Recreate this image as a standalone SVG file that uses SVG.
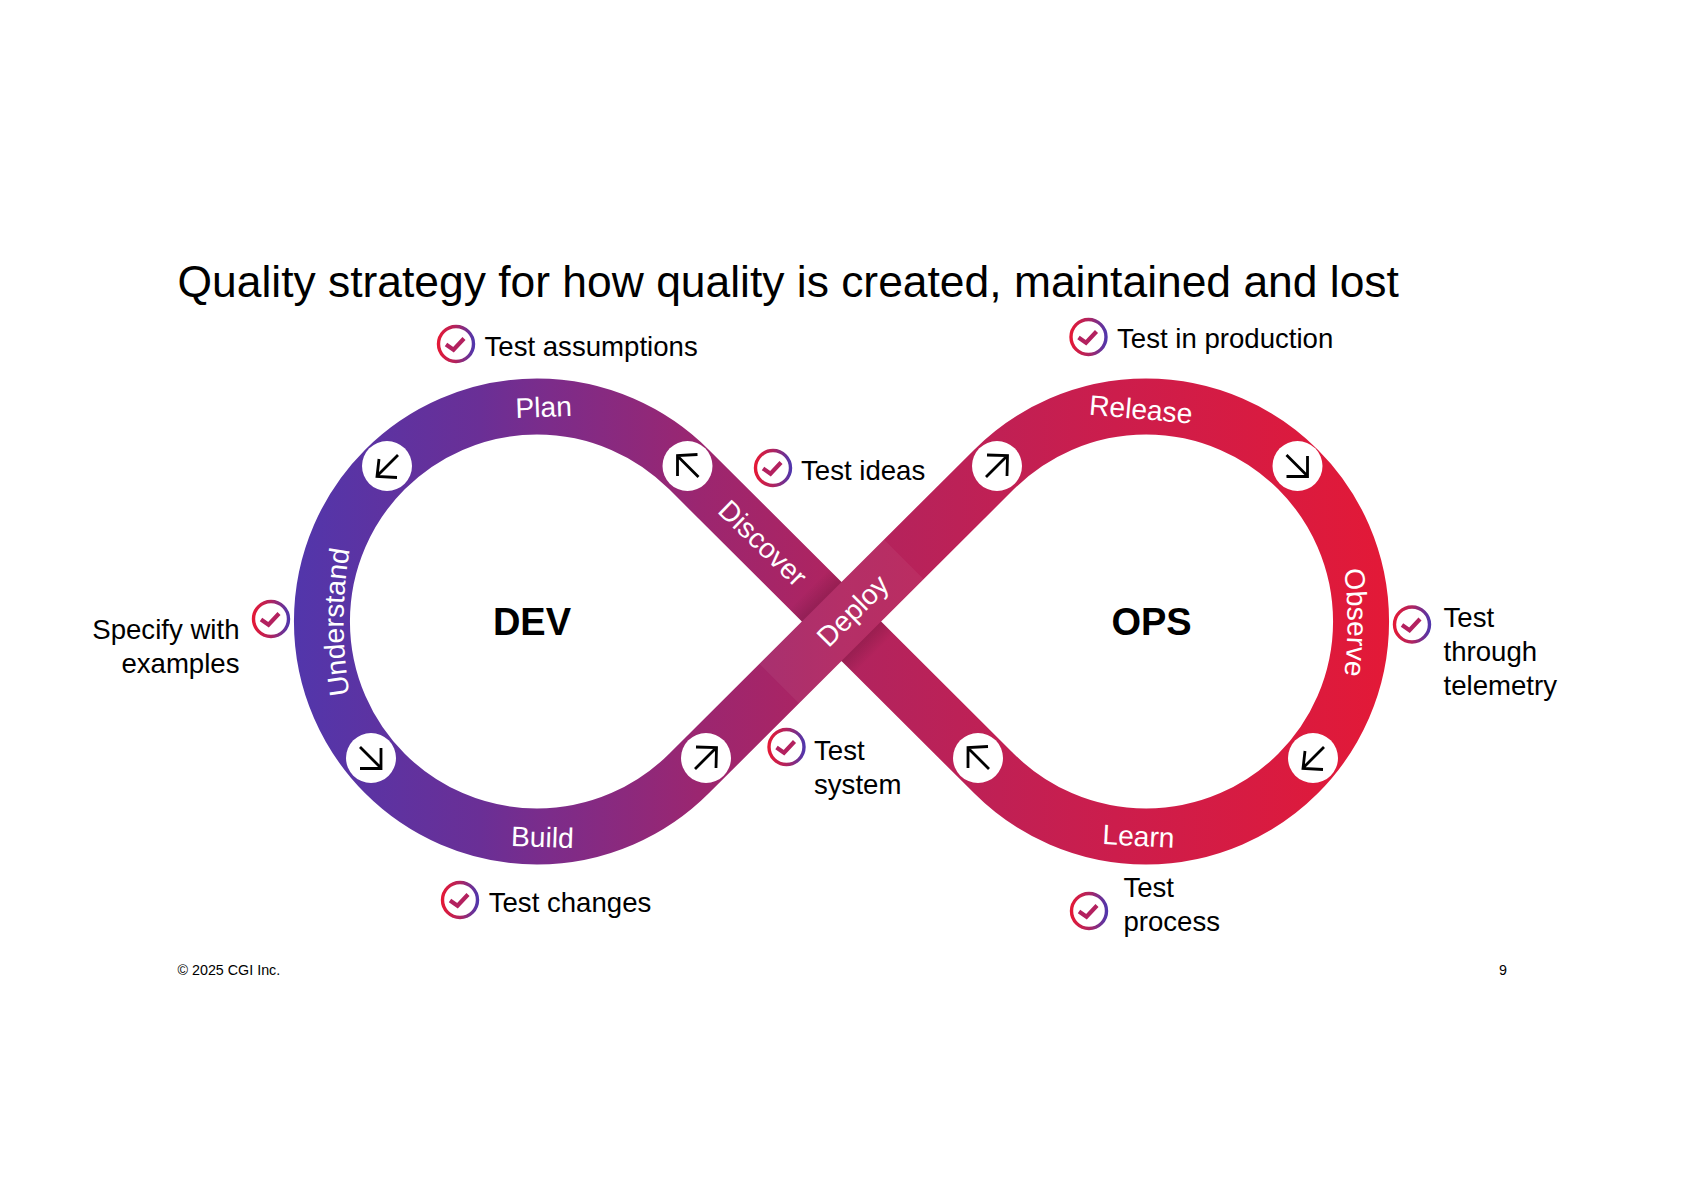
<svg xmlns="http://www.w3.org/2000/svg" width="1684" height="1190" viewBox="0 0 1684 1190">
<style>
text{font-family:"Liberation Sans",Arial,sans-serif;fill:#000}
.t{font-size:44.4px}
.l{font-size:27.6px}
.b{font-size:28.2px;fill:#fff}
.h{font-size:38px;font-weight:bold;text-anchor:middle}
.f{font-size:14.3px}
.disc{fill:#fff}
.ar{fill:none;stroke:#000;stroke-width:2.8}
.ring{fill:none;stroke:url(#cg);stroke-width:3.4}
.tick{fill:none;stroke:#b3215f;stroke-width:4.2}
</style>
<defs>
<linearGradient id="band" gradientUnits="userSpaceOnUse" x1="294" y1="0" x2="1389" y2="0">
<stop offset="0" stop-color="#5236ab"/><stop offset=".17" stop-color="#6a2f96"/><stop offset=".234" stop-color="#7c2c8a"/><stop offset=".37" stop-color="#9b2670"/><stop offset=".5" stop-color="#b0245f"/><stop offset=".75" stop-color="#cc1d4c"/><stop offset="1" stop-color="#e31937"/>
</linearGradient>
<linearGradient id="cg" x1="0" y1="0" x2="1" y2="0">
<stop offset="0" stop-color="#e31937"/><stop offset=".5" stop-color="#b0245f"/><stop offset="1" stop-color="#5236ab"/>
</linearGradient>
<linearGradient id="sh" x1="0" y1="0" x2="1" y2="0">
<stop offset="0" stop-color="#000" stop-opacity=".14"/><stop offset="1" stop-color="#000" stop-opacity="0"/>
</linearGradient>
<path id="pU" d="M350 696A430 430 0 0 1 350 548"/>
<path id="pO" d="M1344 568A420 420 0 0 1 1344 677"/>
<g id="chk"><circle class="ring" r="17.5"/><path class="tick" d="M-10 .5L-2.5 5.7L8-5.5"/></g>
</defs>
<g id="connectors">
<path id="loop" d="M994 773.5L689 469.5A215 215 0 1 0 689 773.5L994 469.5A215 215 0 1 1 994 773.5Z" fill="none" stroke="url(#band)" stroke-width="56"/>
<g transform="translate(841.5 621.5) rotate(-45)">
<rect x="-88" y="-28" width="176" height="56" fill="#fff" opacity=".05"/>
<g transform="rotate(90)"><rect x="28" y="-28" width="18" height="56" fill="url(#sh)"/></g>
<g transform="rotate(-90)"><rect x="28" y="-28" width="18" height="56" fill="url(#sh)"/></g>
</g>
</g>
<g id="title"><text class="t" x="177.5" y="297">Quality strategy for how quality is created, maintained and lost</text></g>
<g id="n-dev"><text class="h" x="532" y="635">DEV</text></g>
<g id="n-ops"><text class="h" x="1151.5" y="635">OPS</text></g>
<g id="n-plan"><text class="b" text-anchor="middle" transform="translate(544 417) rotate(-2)">Plan</text></g>
<g id="n-discover"><text class="b" text-anchor="middle" transform="translate(763 543) rotate(44)" y="10">Discover</text></g>
<g id="n-build"><text class="b" text-anchor="middle" transform="translate(542 847) rotate(2)">Build</text></g>
<g id="n-understand"><text class="b" text-anchor="middle"><textPath href="#pU" startOffset="50%">Understand</textPath></text></g>
<g id="n-deploy"><text class="b" text-anchor="middle" transform="translate(852.5 610.5) rotate(-45)" y="10">Deploy</text></g>
<g id="n-release"><text class="b" text-anchor="middle" transform="translate(1140 419) rotate(5)">Release</text></g>
<g id="n-observe"><text class="b" text-anchor="middle"><textPath href="#pO" startOffset="50%">Observe</textPath></text></g>
<g id="n-learn"><text class="b" text-anchor="middle" transform="translate(1138 846) rotate(3)">Learn</text></g>
<g id="arrows">
<g transform="translate(387 466)"><circle class="disc" r="25"/><path class="ar" d="M11-11L-10 10M-8-7L-10 10.5L10 11.5"/></g>
<g transform="translate(687.5 466)"><circle class="disc" r="25"/><path class="ar" d="M11 11L-10-10M-10 10L-10-10.5L10-11.5"/></g>
<g transform="translate(371 758)"><circle class="disc" r="25"/><path class="ar" d="M-11-11L10 10M10-10L10 10.5L-11 10.5"/></g>
<g transform="translate(706 758)"><circle class="disc" r="25"/><path class="ar" d="M-11 11L10-10M-10-11L10.5-10.5L10 10"/></g>
<g transform="translate(997 466)"><circle class="disc" r="25"/><path class="ar" d="M-11 11L10-10M-10-11L10.5-10.5L10 10"/></g>
<g transform="translate(1297.5 466)"><circle class="disc" r="25"/><path class="ar" d="M-11-11L10 10M10-10L10 10.5L-11 10.5"/></g>
<g transform="translate(978 758)"><circle class="disc" r="25"/><path class="ar" d="M11 11L-10-10M-10 10L-10-10.5L10-11.5"/></g>
<g transform="translate(1313 758)"><circle class="disc" r="25"/><path class="ar" d="M11-11L-10 10M-8-7L-10 10.5L10 11.5"/></g>
</g>
<g id="c1"><use href="#chk" x="456" y="344"/><text class="l" x="484.5" y="356">Test assumptions</text></g>
<g id="c2"><use href="#chk" x="1088.5" y="337"/><text class="l" x="1117" y="348">Test in production</text></g>
<g id="c3"><use href="#chk" x="773" y="468"/><text class="l" x="801" y="480">Test ideas</text></g>
<g id="c4"><use href="#chk" x="786.5" y="747"/><text class="l"><tspan x="814" y="760">Test</tspan><tspan x="814" y="794">system</tspan></text></g>
<g id="c5"><use href="#chk" x="271" y="619"/><text class="l" text-anchor="end"><tspan x="239.5" y="639">Specify with</tspan><tspan x="239.5" y="673">examples</tspan></text></g>
<g id="c6"><use href="#chk" x="1412" y="624.5"/><text class="l"><tspan x="1443.5" y="627">Test</tspan><tspan x="1443.5" y="660.5">through</tspan><tspan x="1443.5" y="695">telemetry</tspan></text></g>
<g id="c7"><use href="#chk" x="460" y="900"/><text class="l" x="488.7" y="912">Test changes</text></g>
<g id="c8"><use href="#chk" x="1089" y="911"/><text class="l"><tspan x="1123.4" y="897">Test</tspan><tspan x="1123.4" y="931">process</tspan></text></g>
<g id="footer"><text class="f" x="177.5" y="975">© 2025 CGI Inc.</text><text class="f" x="1499" y="975">9</text></g>
</svg>
